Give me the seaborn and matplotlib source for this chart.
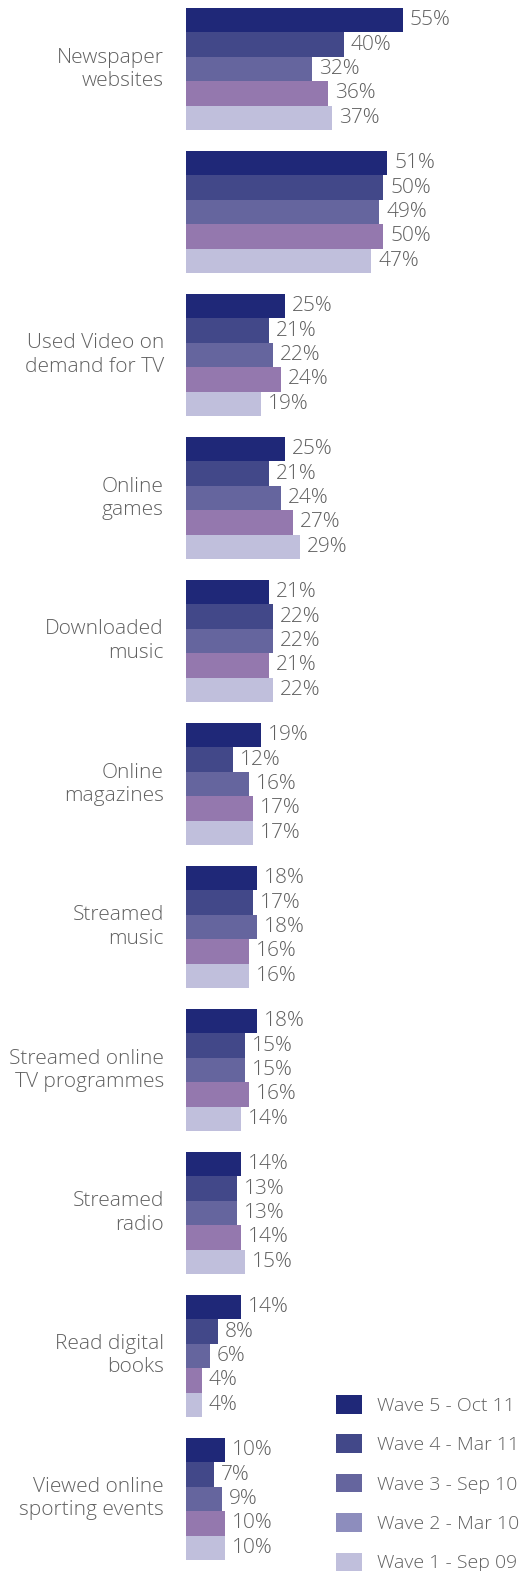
import matplotlib
matplotlib.use("Agg")
import matplotlib.pyplot as plt
from matplotlib.patches import Patch
import pandas as pd
import seaborn as sns

categories = [
    "Newspaper websites",
    "",
    "Used Video on demand for TV",
    "Online games",
    "Downloaded music",
    "Online magazines",
    "Streamed music",
    "Streamed online TV programmes",
    "Streamed radio",
    "Read digital books",
    "Viewed online sporting events",
]
tick_labels = [
    "Newspaper\nwebsites",
    "",
    "Used Video on\ndemand for TV",
    "Online\ngames",
    "Downloaded\nmusic",
    "Online\nmagazines",
    "Streamed\nmusic",
    "Streamed online\nTV programmes",
    "Streamed\nradio",
    "Read digital\nbooks",
    "Viewed online\nsporting events",
]
waves = ["Wave 5 - Oct 11", "Wave 4 - Mar 11", "Wave 3 - Sep 10",
         "Wave 2 - Mar 10", "Wave 1 - Sep 09"]

wave5 = [55, 51, 25, 25, 21, 19, 18, 18, 14, 14, 10]
wave4 = [40, 50, 21, 21, 22, 12, 17, 15, 13, 8, 7]
wave3 = [32, 49, 22, 24, 22, 16, 18, 15, 13, 6, 9]
wave2 = [36, 50, 24, 27, 21, 17, 16, 16, 14, 4, 10]
wave1 = [37, 47, 19, 29, 22, 17, 16, 14, 15, 4, 10]
series = [wave5, wave4, wave3, wave2, wave1]

bar_colors = ["#1f2878", "#424889", "#65659e", "#9478ae", "#c0bfdc"]
legend_colors = ["#1f2878", "#424889", "#65659e", "#8d8dbd", "#c0bfdc"]
text_color = "#606060"

# long-form table: one row per (wave, category) bar
rows = []
for w, vals in zip(waves, series):
    for c, v in zip(categories, vals):
        rows.append({"category": c, "wave": w, "value": v})
df = pd.DataFrame(rows)

sns.set_theme(style="white")
plt.rcParams["font.family"] = ["Open Sans", "DejaVu Sans"]
FS = 15

W, H = 524, 1571
fig = plt.figure(figsize=(W / 100, H / 100), dpi=100)
ax = fig.add_axes([186 / W, 0, 1 - 186 / W, 1])

sns.barplot(data=df, y="category", x="value", hue="wave", order=categories,
            hue_order=waves, palette=bar_colors, saturation=1, width=0.853,
            orient="h", ax=ax, legend=False, linewidth=0, edgecolor="none")

# percentage labels at the end of each bar
for cont, vals in zip(ax.containers, series):
    ax.bar_label(cont, labels=[f"{v}%" for v in vals], padding=5,
                 fontsize=FS, color=text_color, fontweight="light")

ax.set_xlim(0, (W - 186) / 3.945)
ax.set_ylim(10 + (H - 1499) / 143, -69 / 143)
ax.set_xlabel("")
ax.set_ylabel("")
ax.set_xticks([])
ax.set_yticks(range(len(categories)))
ax.set_yticklabels(tick_labels, fontsize=FS, color=text_color,
                   fontweight="light", linespacing=1.2, va="center")
ax.tick_params(axis="y", length=0, pad=16)
for s in ax.spines.values():
    s.set_visible(False)

handles = [Patch(facecolor=c, edgecolor="none") for c in legend_colors]
fig.legend(handles, waves, loc="upper left",
           bbox_to_anchor=(336 / W, 1 - 1395 / H), frameon=False,
           labelcolor=text_color, handlelength=1.35,
           handleheight=1.1, handletextpad=0.75, labelspacing=1.0,
           borderpad=0, borderaxespad=0,
           prop={"family": ["Open Sans", "DejaVu Sans"], "weight": "light",
                 "size": 14})

fig.savefig("out.png", dpi=100)
